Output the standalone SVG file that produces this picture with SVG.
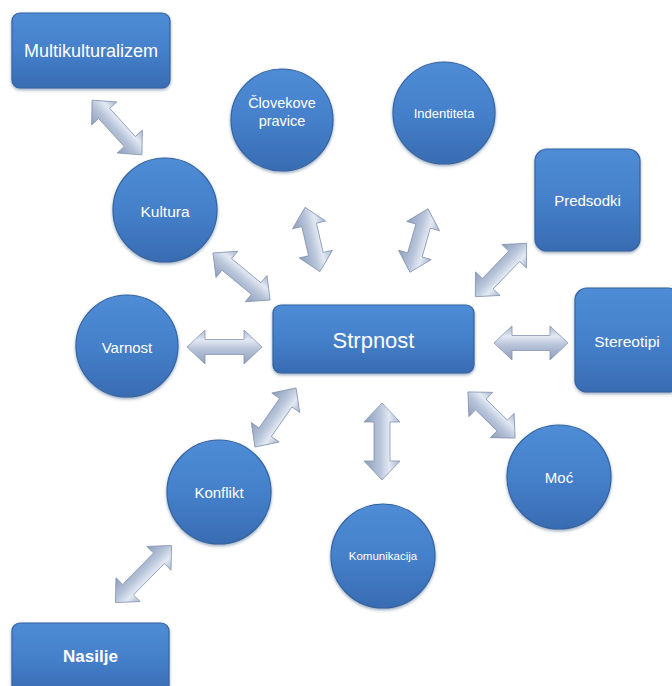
<svg xmlns="http://www.w3.org/2000/svg" width="672" height="686" viewBox="0 0 672 686">
<style>
.node{fill:url(#blue);stroke:#3563a0;stroke-width:1.2;filter:url(#sh)}
.lbl{fill:#ffffff;font-family:"Liberation Sans",Arial,sans-serif;text-anchor:middle;dominant-baseline:central}
.arr{fill:url(#grey);stroke:#8594b0;stroke-width:0.8}
</style>
<defs>
<linearGradient id="blue" x1="0" y1="0" x2="0" y2="1">
<stop offset="0" stop-color="#4f8cd6"/>
<stop offset="0.5" stop-color="#4580cb"/>
<stop offset="1" stop-color="#386cb2"/>
</linearGradient>
<linearGradient id="grey" x1="0" y1="0" x2="0" y2="1">
<stop offset="0" stop-color="#a8b6cf"/>
<stop offset="0.3" stop-color="#e3e9f3"/>
<stop offset="0.55" stop-color="#b9c5da"/>
<stop offset="1" stop-color="#8d9dbb"/>
</linearGradient>
<filter id="sh" x="-10%" y="-10%" width="125%" height="125%">
<feDropShadow dx="0" dy="1.5" stdDeviation="1.5" flood-color="#1f3e66" flood-opacity="0.45"/>
</filter>
</defs>
<rect width="672" height="686" fill="#ffffff"/>
<g id="connectors">
<path class="arr" transform="translate(117,127.5) rotate(47.7)" d="M-37 0 L-19 -17 L-19 -7.5 L19 -7.5 L19 -17 L37 0 L19 17 L19 7.5 L-19 7.5 L-19 17 Z"/>
<path class="arr" transform="translate(241.5,276.5) rotate(39.5)" d="M-37 0 L-19 -17 L-19 -7.5 L19 -7.5 L19 -17 L37 0 L19 17 L19 7.5 L-19 7.5 L-19 17 Z"/>
<path class="arr" transform="translate(312.5,239.5) rotate(77)" d="M-33 0 L-15 -17 L-15 -7.5 L15 -7.5 L15 -17 L33 0 L15 17 L15 7.5 L-15 7.5 L-15 17 Z"/>
<path class="arr" transform="translate(419,240.5) rotate(105.9)" d="M-33 0 L-15 -17 L-15 -7.5 L15 -7.5 L15 -17 L33 0 L15 17 L15 7.5 L-15 7.5 L-15 17 Z"/>
<path class="arr" transform="translate(501,270) rotate(133.9)" d="M-37 0 L-19 -17 L-19 -7.5 L19 -7.5 L19 -17 L37 0 L19 17 L19 7.5 L-19 7.5 L-19 17 Z"/>
<path class="arr" transform="translate(224.5,347)" d="M-37.5 0 L-19.5 -17 L-19.5 -7.5 L19.5 -7.5 L19.5 -17 L37.5 0 L19.5 17 L19.5 7.5 L-19.5 7.5 L-19.5 17 Z"/>
<path class="arr" transform="translate(531,343)" d="M-37 0 L-19 -17 L-19 -7.5 L19 -7.5 L19 -17 L37 0 L19 17 L19 7.5 L-19 7.5 L-19 17 Z"/>
<path class="arr" transform="translate(275.5,417.5) rotate(124.8)" d="M-36 0 L-18 -17 L-18 -7.5 L18 -7.5 L18 -17 L36 0 L18 17 L18 7.5 L-18 7.5 L-18 17 Z"/>
<path class="arr" transform="translate(491.5,415) rotate(44.4)" d="M-33 0 L-15 -17 L-15 -7.5 L15 -7.5 L15 -17 L33 0 L15 17 L15 7.5 L-15 7.5 L-15 17 Z"/>
<path class="arr" transform="translate(382,441.5) rotate(90)" d="M-38.5 0 L-19.5 -18 L-19.5 -8 L19.5 -8 L19.5 -18 L38.5 0 L19.5 18 L19.5 8 L-19.5 8 L-19.5 18 Z"/>
<path class="arr" transform="translate(143.5,574) rotate(134.5)" d="M-40 0 L-22 -17 L-22 -7.5 L22 -7.5 L22 -17 L40 0 L22 17 L22 7.5 L-22 7.5 L-22 17 Z"/>
</g>
<g id="multikulturalizem">
<rect class="node" x="12" y="13" width="158" height="75" rx="8"/>
<text class="lbl" x="91" y="51" font-size="18">Multikulturalizem</text>
</g>
<g id="clovekove-pravice">
<circle class="node" cx="282" cy="120" r="51"/>
<text class="lbl" x="282" y="103" font-size="14.5">Človekove</text>
<text class="lbl" x="282" y="121" font-size="14.5">pravice</text>
</g>
<g id="indentiteta">
<circle class="node" cx="444" cy="113" r="51"/>
<text class="lbl" x="444" y="113" font-size="13">Indentiteta</text>
</g>
<g id="kultura">
<circle class="node" cx="165" cy="210" r="52"/>
<text class="lbl" x="165" y="211" font-size="15.5">Kultura</text>
</g>
<g id="predsodki">
<rect class="node" x="535" y="149" width="105" height="102" rx="12"/>
<text class="lbl" x="587.5" y="200" font-size="15">Predsodki</text>
</g>
<g id="strpnost">
<rect class="node" x="273" y="305" width="201" height="68" rx="8"/>
<text class="lbl" x="373.5" y="340" font-size="22">Strpnost</text>
</g>
<g id="varnost">
<circle class="node" cx="127" cy="346" r="51"/>
<text class="lbl" x="127" y="347" font-size="15">Varnost</text>
</g>
<g id="stereotipi">
<rect class="node" x="575" y="288" width="105" height="104" rx="12"/>
<text class="lbl" x="627" y="341" font-size="15.5">Stereotipi</text>
</g>
<g id="konflikt">
<circle class="node" cx="219" cy="492" r="52"/>
<text class="lbl" x="219" y="492" font-size="15">Konflikt</text>
</g>
<g id="moc">
<circle class="node" cx="559" cy="477" r="52"/>
<text class="lbl" x="559" y="477" font-size="15">Moć</text>
</g>
<g id="komunikacija">
<circle class="node" cx="383" cy="556" r="52"/>
<text class="lbl" x="383" y="556" font-size="11.5">Komunikacija</text>
</g>
<g id="nasilje">
<rect class="node" x="12" y="623" width="157" height="70" rx="8"/>
<text class="lbl" x="90.5" y="656" font-size="17" font-weight="bold">Nasilje</text>
</g>
</svg>
